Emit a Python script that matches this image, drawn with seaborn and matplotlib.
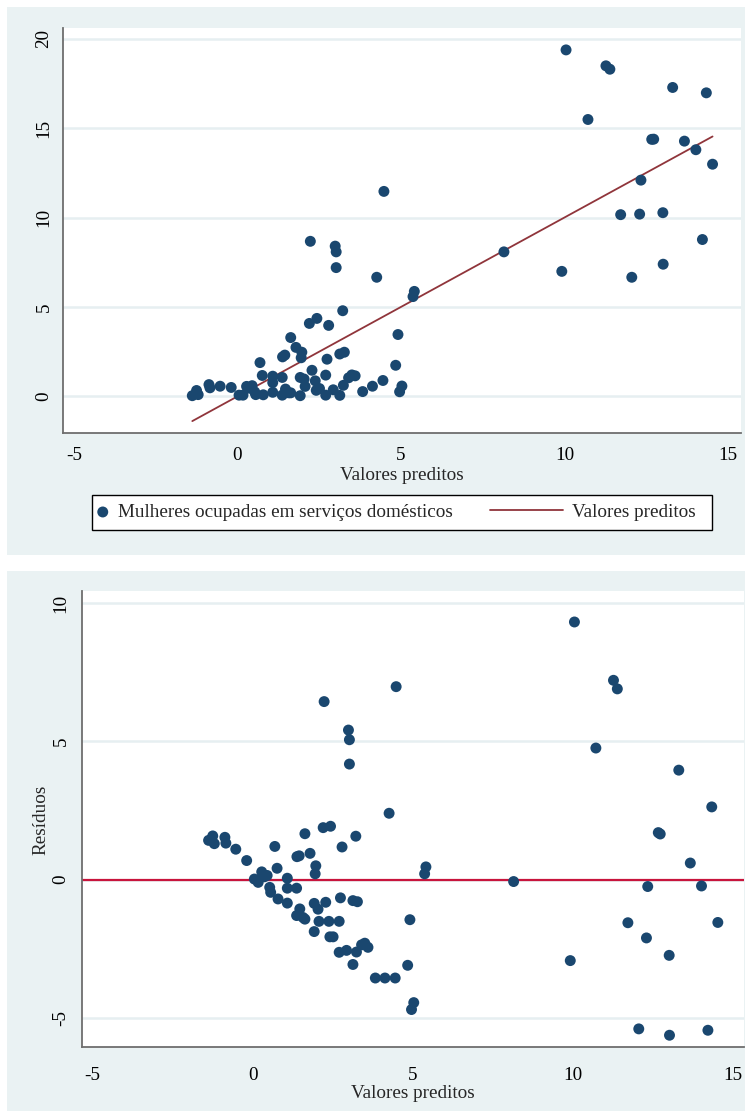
import numpy as np
import pandas as pd
import matplotlib
matplotlib.use("Agg")
import matplotlib.pyplot as plt
from matplotlib.patches import Rectangle
import seaborn as sns

# ---- data ----
predicted = [-1.38, -1.25, -1.20, -0.87, -0.84, -0.53, -0.19,
             0.05, 0.17, 0.28, 0.36, 0.45, 0.53, 0.56, 0.79, 0.76, 0.69,
             1.08, 1.08, 1.37, 1.08, 1.47, 1.37, 1.57, 1.63, 1.38, 1.45,
             1.63, 1.79, 1.92, 2.04, 2.28, 1.92, 2.07, 2.38, 2.70, 2.41,
             2.51, 2.74, 3.13, 3.27, 2.70, 2.93, 3.24, 3.40, 3.50, 3.60,
             3.13, 3.83, 4.13, 4.45, 4.84, 4.91, 4.96, 5.03, 5.41, 5.37,
             1.97, 1.95, 2.20, 2.43, 3.22, 2.79, 4.26, 2.23, 4.48, 2.99,
             3.02, 3.02,
             8.15, 9.92, 10.05, 10.72, 11.27, 11.39, 11.72, 12.06, 12.30,
             12.34, 12.67, 12.73, 13.01, 13.02, 13.31, 13.67, 14.02, 14.22,
             14.34, 14.53]
observed = [0.04, 0.33, 0.10, 0.66, 0.48, 0.57, 0.50,
            0.07, 0.07, 0.56, 0.46, 0.60, 0.25, 0.10, 0.09, 1.17, 1.89,
            1.13, 0.77, 1.06, 0.23, 0.41, 0.07, 0.20, 0.20, 2.21, 2.31,
            3.29, 2.74, 1.06, 0.97, 1.46, 0.04, 0.56, 0.87, 1.19, 0.34,
            0.44, 2.08, 2.37, 2.47, 0.07, 0.37, 0.62, 1.04, 1.20, 1.15,
            0.06, 0.27, 0.57, 0.89, 1.74, 3.46, 0.26, 0.58, 5.87, 5.58,
            2.47, 2.16, 4.08, 4.36, 4.79, 3.97, 6.66, 8.67, 11.46, 8.40,
            8.08, 7.20,
            8.08, 6.99, 19.37, 15.48, 18.48, 18.29, 10.16, 6.66, 10.19,
            12.09, 14.37, 14.38, 10.27, 7.39, 17.27, 14.27, 13.79, 8.77,
            16.97, 12.98]

x_ticks = [-5, 0, 5, 10, 15]
y_ticks_top = [0, 5, 10, 15, 20]
y_ticks_bottom = [-5, 0, 5, 10]

label_obs = "Mulheres ocupadas em serviços domésticos"
label_pred = "Valores preditos"
xlabel = "Valores preditos"
ylabel_bottom = "Resíduos"

df = pd.DataFrame({"pred": predicted, "obs": observed})
df["resid"] = df["obs"] - df["pred"]

# ---- style ----
sns.set_style("white")
plt.rcParams["font.family"] = ["Liberation Serif", "DejaVu Serif"]
FS = 13.8
NAVY = "#1A476F"
MAROON = "#90353B"
RED = "#C8143C"
BG = "#EAF2F3"
GRID = "#E6EFF1"
AXC = "#6E6E6E"
MS = 62

W, H = 752, 1117
fig = plt.figure(figsize=(W / 100, H / 100), dpi=100, facecolor="white")

def px_rect(x0, y0, x1, y1):
    return (x0 / W, 1 - y1 / H, (x1 - x0) / W, (y1 - y0) / H)

# panel backgrounds
for (x0, y0, x1, y1) in [(7, 7, 745, 555), (7, 571, 745, 1111)]:
    l, b, w, h = px_rect(x0, y0, x1, y1)
    fig.patches.append(Rectangle((l, b), w, h, transform=fig.transFigure,
                                 facecolor=BG, edgecolor="none", zorder=-10))

ax1 = fig.add_axes(px_rect(62.8, 27.9, 741, 432.9))
ax2 = fig.add_axes(px_rect(81.5, 591.3, 744.4, 1047.4))

def style_axes(ax, yticks, xpad, ypad):
    ax.set_facecolor("white")
    for s in ["top", "right"]:
        ax.spines[s].set_visible(False)
    for s in ["left", "bottom"]:
        ax.spines[s].set_color(AXC)
        ax.spines[s].set_linewidth(1.3)
    ax.set_xticks(x_ticks)
    ax.set_yticks(yticks)
    ax.set_xticklabels([str(t) for t in x_ticks], fontsize=FS)
    ax.set_yticklabels([str(t) for t in yticks], fontsize=FS,
                       rotation=90, va="center")
    ax.tick_params(axis="both", direction="out", length=6, width=1.1,
                   color=AXC, labelcolor="black")
    ax.tick_params(axis="x", pad=xpad)
    ax.tick_params(axis="y", pad=ypad)
    ax.grid(False)
    for t in yticks:
        ax.axhline(t, color=GRID, lw=1.8, zorder=0.5)

# ---- top panel ----
sns.scatterplot(data=df, x="pred", y="obs", ax=ax1, color=NAVY, s=MS,
                edgecolor="none", linewidth=0, zorder=3, label=label_obs)
sns.lineplot(data=df, x="pred", y="pred", ax=ax1, color=MAROON, lw=1.3,
             zorder=2, label=label_pred, errorbar=None)
ax1.set_xlim(-5.34, 15.40)
ax1.set_ylim(-2.04, 20.6)
style_axes(ax1, y_ticks_top, xpad=4, ypad=1.5)
ax1.set_xlabel(xlabel, fontsize=FS, labelpad=2)
ax1.set_ylabel("")
h, l = ax1.get_legend_handles_labels()
ax1.get_legend().remove()

# legend: one frame, two entries with different handle lengths
fx0, fy0, fx1, fy1 = 92, 494.6, 712, 530
lb = px_rect(fx0, fy0, fx1, fy1)
fig.patches.append(Rectangle((lb[0], lb[1]), lb[2], lb[3], transform=fig.transFigure,
                             facecolor="white", edgecolor="black", lw=1.0, zorder=5))
ycen = 1 - (fy0 + fy1) / 2 / H
common = dict(loc="center left", fontsize=FS, frameon=False, borderpad=0,
              borderaxespad=0, handletextpad=0.5)
legA = fig.legend([h[0]], [l[0]], bbox_to_anchor=(97 / W, ycen),
                  handlelength=0.6, **common)
legB = fig.legend([h[1]], [l[1]], bbox_to_anchor=(490 / W, ycen),
                  handlelength=3.8, **common)
legA.set_zorder(6)
legB.set_zorder(6)

# ---- bottom panel ----
sns.scatterplot(data=df, x="pred", y="resid", ax=ax2, color=NAVY, s=MS,
                edgecolor="none", linewidth=0, zorder=3)
ax2.set_xlim(-5.35, 15.36)
ax2.set_ylim(-6.07, 10.43)
style_axes(ax2, y_ticks_bottom, xpad=8, ypad=2.5)
ax2.axhline(0, color=RED, lw=1.6, zorder=2)
ax2.set_xlabel(xlabel, fontsize=FS, labelpad=1)
ax2.set_ylabel(ylabel_bottom, fontsize=FS, labelpad=2)

fig.savefig("out.png", dpi=100, facecolor="white")
